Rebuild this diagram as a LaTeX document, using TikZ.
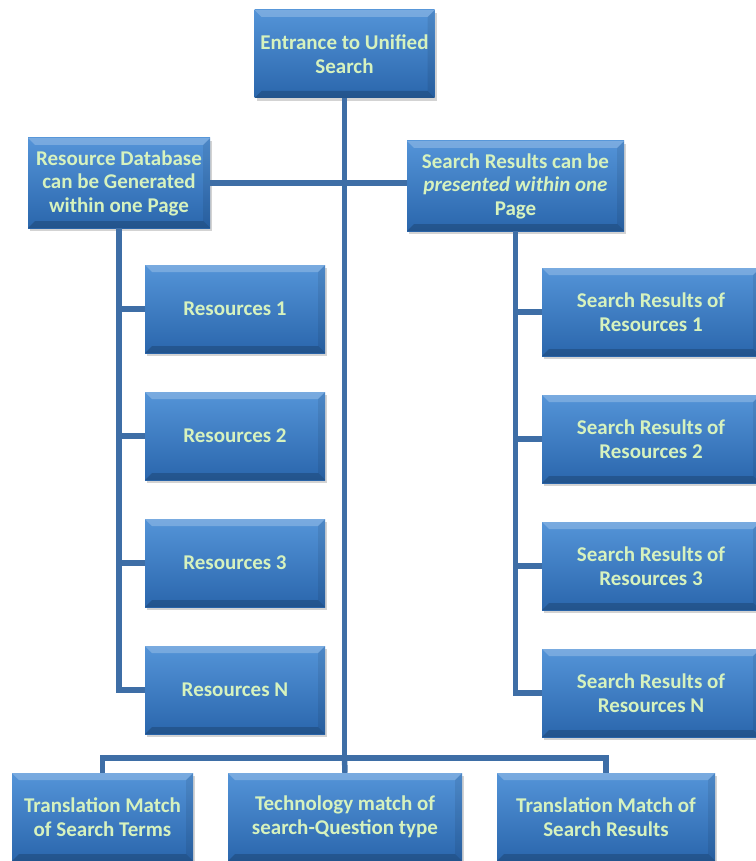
\documentclass[tikz,border=0pt]{standalone}
\usepackage{fontspec}
\setmainfont{Carlito}
\usetikzlibrary{positioning, shadows, calc}
\definecolor{boxtop}{RGB}{84,148,216}
\definecolor{boxbot}{RGB}{42,102,172}
\definecolor{boxtext}{RGB}{214,242,190}
\definecolor{linkblue}{RGB}{62,110,166}
\tikzset{
    unit/.style={draw=none, top color=boxtop, bottom color=boxbot, minimum width=#1, minimum height=88pt,
        inner sep=0pt, text=boxtext, font=\fontsize{21}{23.5}\selectfont\bfseries, align=center,
        drop shadow={shadow xshift=2pt, shadow yshift=-3pt, opacity=0.35},
        path picture={
            \fill[white, opacity=0.22] (path picture bounding box.north west) -- (path picture bounding box.north east)
                -- ([xshift=-7pt,yshift=-7pt]path picture bounding box.north east) -- ([xshift=7pt,yshift=-7pt]path picture bounding box.north west) -- cycle;
            \fill[black, opacity=0.18] (path picture bounding box.south west) -- (path picture bounding box.south east)
                -- ([xshift=-7pt,yshift=7pt]path picture bounding box.south east) -- ([xshift=7pt,yshift=7pt]path picture bounding box.south west) -- cycle;
            \fill[black, opacity=0.08] (path picture bounding box.north east) -- (path picture bounding box.south east)
                -- ([xshift=-7pt,yshift=7pt]path picture bounding box.south east) -- ([xshift=-7pt,yshift=-7pt]path picture bounding box.north east) -- cycle;
        }},
    link/.style={draw=linkblue, line width=5.5pt}
}

\begin{document}
\begin{tikzpicture}[x=1pt, y=-1pt]
    \useasboundingbox (0,0) rectangle (755,861);

    % --- Top and second level ---
    \node (entry) [unit=180pt] at (344.5,54) {Entrance to Unified\\Search};
    \node (resdb) [unit=182pt, minimum height=90pt] at (119,183) {Resource Database\\can be Generated\\within one Page};
    \node (respage) [unit=217pt, minimum height=90pt] at (515.5,186) {Search Results can be\\\textit{presented within one}\\Page};

    % --- Resources ---
    \foreach \i/\y/\t in {1/309/1, 2/436/2, 3/563/3, 4/690/N}
        \node (res\i) [unit=180pt] at (235,\y) {Resources \t};

    % --- Search results ---
    \foreach \i/\y/\t in {1/312/1, 2/439/2, 3/566/3, 4/693/N}
        \node (sr\i) [unit=218pt] at (651,\y) {Search Results of\\Resources \t};

    % --- Bottom row ---
    \node (transterm) [unit=181pt] at (102.5,817) {Translation Match\\of Search Terms};
    \node (techmatch) [unit=234pt] at (345,817) {Technology match of\\search-Question type};
    \node (transres) [unit=218pt] at (606,817) {Translation Match of\\Search Results};

    % --- Connections ---
    \coordinate (hub) at (344.5,758);
    \draw[link] (entry.south) -- (hub);
    \draw[link] (resdb.east) -- (resdb.east -| respage.west);
    \draw[link] (resdb.south) |- (res4.west);
    \draw[link] (respage.south) |- (sr4.west);
    \foreach \i in {1,2,3} {
        \draw[link] (res\i.west) -- (res\i.west -| resdb.south);
        \draw[link] (sr\i.west) -- (sr\i.west -| respage.south);
    }
    \draw[link] (transterm.north) |- (hub) -| (transres.north);
    \draw[link] (hub) -- (techmatch.north);
\end{tikzpicture}
\end{document}
